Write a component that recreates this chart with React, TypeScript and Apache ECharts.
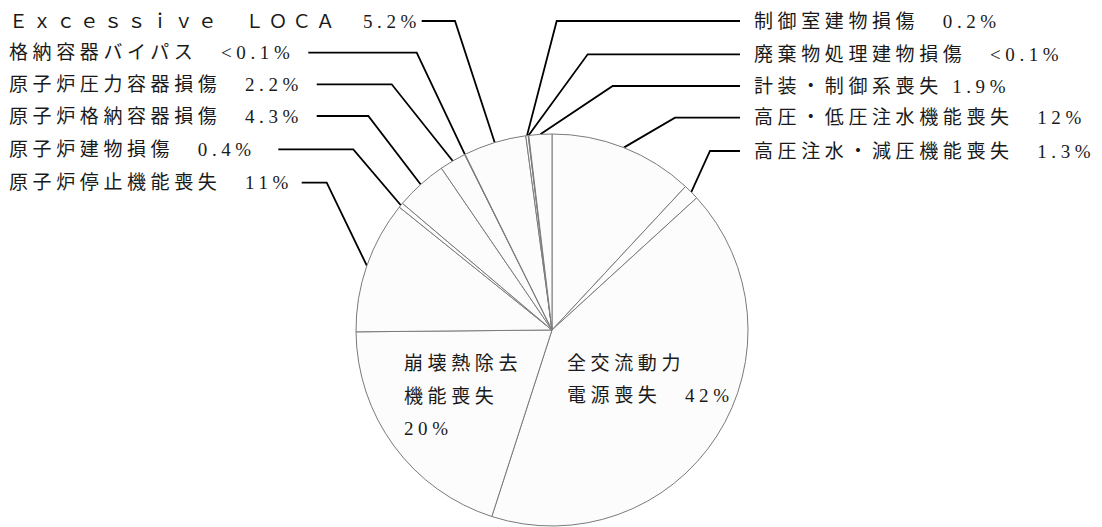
import React, { useEffect, useRef } from 'react';
import * as echarts from 'echarts';

// Slices, clockwise from 12 o'clock
const names = [
  '高圧・低圧注水機能喪失',
  '高圧注水・減圧機能喪失',
  '全交流動力電源喪失',
  '崩壊熱除去機能喪失',
  '原子炉停止機能喪失',
  '原子炉建物損傷',
  '原子炉格納容器損傷',
  '原子炉圧力容器損傷',
  '格納容器バイパス',
  'Ｅｘｃｅｓｓｉｖｅ　ＬＯＣＡ',
  '制御室建物損傷',
  '廃棄物処理建物損傷',
  '計装・制御系喪失',
];
const shares = [12, 1.3, 42, 20, 11, 0.4, 4.3, 2.2, 0.05, 5.2, 0.2, 0.05, 1.9];
const shareLabels = ['12%', '1.3%', '42%', '20%', '11%', '0.4%', '4.3%', '2.2%', '<0.1%', '5.2%', '0.2%', '<0.1%', '1.9%'];
const displayNames = [
  '高圧・低圧注水機能喪失',
  '高圧注水・減圧機能喪失',
  '全交流動力\n電源喪失',
  '崩壊熱除去\n機能喪失',
  '原子炉停止機能喪失',
  '原子炉建物損傷',
  '原子炉格納容器損傷',
  '原子炉圧力容器損傷',
  '格納容器バイパス',
  'Ｅｘｃｅｓｓｉｖｅ　ＬＯＣＡ',
  '制御室建物損傷',
  '廃棄物処理建物損傷',
  '計装・制御系喪失',
];
const separators = ['　', '　', '　', '\n', '　', '　', '　', '　', '　', '　', '　', '　', ' '];
const insideLabels = [2, 3];

// Label placement (layout only): text anchor and leader-line horizontal segment
const labelPlacement: { x: number; y: number; lineFrom?: number; elbow?: number }[] = [
  { x: 754, y: 117.7, lineFrom: 740, elbow: 675 },
  { x: 754, y: 151, lineFrom: 740, elbow: 710 },
  { x: 567, y: 379.5 },
  { x: 404, y: 396 },
  { x: 9, y: 182.7, lineFrom: 301.7, elbow: 326.7 },
  { x: 9, y: 149.3, lineFrom: 278.3, elbow: 353.3 },
  { x: 9, y: 116, lineFrom: 316.7, elbow: 368.3 },
  { x: 9, y: 84.3, lineFrom: 316.7, elbow: 391.7 },
  { x: 9, y: 52.7, lineFrom: 308.3, elbow: 416.7 },
  { x: 9, y: 21, lineFrom: 421.7, elbow: 455 },
  { x: 754, y: 21, lineFrom: 740, elbow: 556.7 },
  { x: 754, y: 54.3, lineFrom: 740, elbow: 587.7 },
  { x: 754, y: 86, lineFrom: 740, elbow: 612.7 },
];

const FONT = "'Liberation Serif', 'Noto Sans CJK JP', serif";

export default function App() {
  const ref = useRef<HTMLDivElement>(null);

  useEffect(() => {
    if (!ref.current) return;
    const chart = echarts.init(ref.current, undefined, { renderer: 'svg' });
    const data = names.map((n, i) => ({
      name: n,
      value: shares[i],
      labelLine: { show: !insideLabels.includes(i) },
    }));
    chart.setOption({
      animation: false,
      backgroundColor: '#ffffff',
      series: [
        {
          type: 'pie',
          center: [552, 330],
          radius: [0, 196],
          startAngle: 90,
          clockwise: true,
          avoidLabelOverlap: false,
          data,
          itemStyle: {
            color: '#fcfcfc',
            borderColor: '#7a7a7a',
            borderWidth: 1,
          },
          emphasis: { disabled: true },
          label: {
            show: true,
            position: 'outside',
            color: '#1a1a1a',
            fontSize: 19,
            fontFamily: FONT,
            lineHeight: 32.5,
            formatter: (p: any) =>
              displayNames[p.dataIndex] + separators[p.dataIndex] + shareLabels[p.dataIndex],
          },
          labelLine: {
            show: true,
            smooth: false,
            lineStyle: { color: '#000000', width: 1.8 },
          },
          labelLayout: (params: any) => {
            const i = params.dataIndex;
            const pl = labelPlacement[i];
            const out: any = { x: pl.x, y: pl.y, align: 'left', verticalAlign: 'middle' };
            if (pl.lineFrom != null && params.labelLinePoints && params.labelLinePoints[0]) {
              out.labelLinePoints = [
                params.labelLinePoints[0],
                [pl.elbow, pl.y],
                [pl.lineFrom, pl.y],
              ];
            }
            return out;
          },
        },
      ],
    });
    return () => chart.dispose();
  }, []);

  return (
    <>
      <style>{`#pie-chart text { letter-spacing: 4.6px; }`}</style>
      <div
        id="pie-chart"
        ref={ref}
        style={{ position: 'absolute', left: 0, top: 0, width: 1102, height: 527, background: '#fff' }}
      />
    </>
  );
}
